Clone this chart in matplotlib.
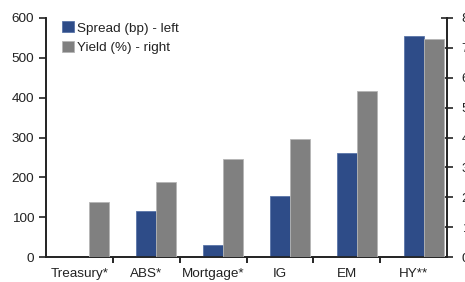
import numpy as np
import matplotlib
matplotlib.use("Agg")
from matplotlib import pyplot as plt
from matplotlib.ticker import FixedLocator

plt.rcParams['font.family'] = ['Liberation Sans', 'DejaVu Sans']
plt.rcParams['font.size'] = 9.7

categories = ['Treasury*', 'ABS*', 'Mortgage*', 'IG', 'EM', 'HY**']
spread_bp = [0, 115, 29, 154, 260, 554]
yield_pct = [1.85, 2.5, 3.28, 3.95, 5.54, 7.3]

blue = '#2E4C88'
grey = '#808080'
txt = '#222222'

fig = plt.figure(figsize=(4.65, 2.82), dpi=100)
ax = fig.add_axes([46/465, 25/282, 401/465, 239/282])
ax2 = ax.twinx()

x = np.arange(len(categories))
w = 0.3
b1 = ax.bar(x, spread_bp, w, color=blue, edgecolor='#5a75a8', linewidth=0.6,
            label='Spread (bp) - left', zorder=3)
b2 = ax2.bar(x + w, yield_pct, w, color=grey, edgecolor='#b5b5b5', linewidth=0.6,
             label='Yield (%) - right', zorder=3)

ax.set_xlim(-0.5, len(categories) - 0.5)
ax.set_ylim(0, 600)
ax2.set_ylim(0, 8)
ax.set_yticks(range(0, 601, 100))
ax2.set_yticks(range(0, 9))

ax.set_xticks(x)
ax.set_xticklabels(categories, color=txt)
ax.xaxis.set_minor_locator(FixedLocator(np.arange(0.5, len(categories) - 0.5, 1)))
ax.tick_params(axis='x', which='major', length=0, pad=8)
ax.tick_params(axis='x', which='minor', length=4, width=1.2, direction='out')
ax.tick_params(axis='y', length=5, width=1.2, direction='out', colors='#222222', labelcolor=txt)
ax2.tick_params(axis='y', length=9, width=1.2, direction='inout', colors='#222222', labelcolor=txt, pad=6)

for a in (ax, ax2):
    a.spines['top'].set_visible(False)
    for s in ('left', 'right', 'bottom'):
        a.spines[s].set_linewidth(1.2)
        a.spines[s].set_color('#222222')

leg = ax.legend([b1, b2], ['Spread (bp) - left', 'Yield (%) - right'],
                loc='upper left', bbox_to_anchor=(0.02, 1.02), frameon=False,
                handlelength=0.9, handleheight=0.9, handletextpad=0.2,
                labelspacing=0.45, borderaxespad=0.2)
for t in leg.get_texts():
    t.set_color(txt)

fig.savefig('out.png', dpi=100)
